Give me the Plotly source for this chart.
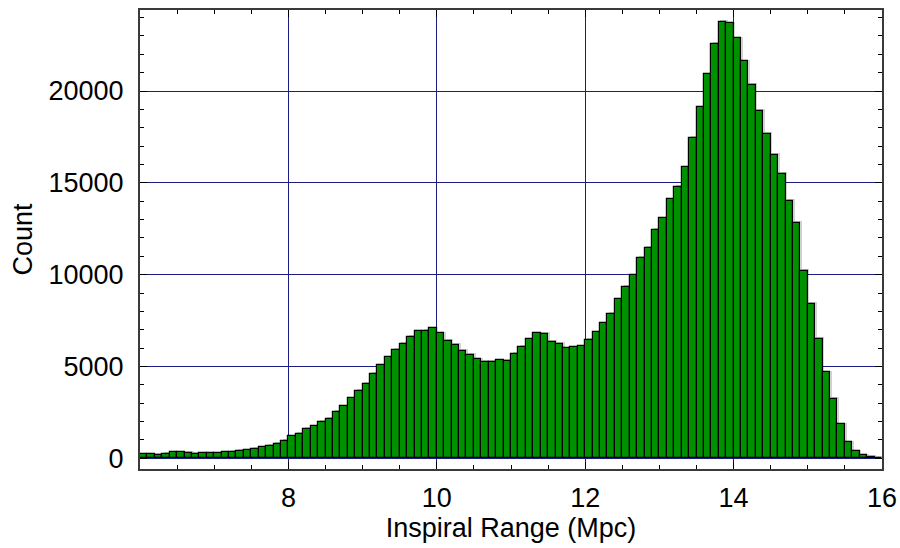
import plotly.graph_objects as go

# Histogram of inspiral range: bins of 0.1 Mpc from 6.0 to 16.0
bin_start = 6.0
bin_width = 0.1
counts = [
    216, 216, 200, 235, 325, 325, 290, 250, 270, 270,        # 6.0 - 6.9
    270, 325, 345, 400, 435, 505, 600, 670, 780, 940,        # 7.0 - 7.9
    1200, 1341, 1595, 1741, 1977, 2158, 2521, 2830, 3265, 3665,   # 8.0 - 8.9
    4062, 4607, 5063, 5498, 5896, 6224, 6605, 6915, 6932, 7078,   # 9.0 - 9.9
    6806, 6404, 6170, 5843, 5625, 5390, 5244, 5244, 5336, 5318,   # 10.0 - 10.9
    5680, 6060, 6480, 6806, 6768, 6349, 6224, 5989, 6044, 6099,   # 11.0 - 11.9
    6460, 6859, 7349, 7857, 8656, 9326, 9962, 10908, 11452, 12432,  # 12.0 - 12.9
    13066, 14100, 14772, 15843, 17440, 19112, 20907, 22577, 23757, 23685,  # 13.0 - 13.9
    22870, 21617, 20328, 18912, 17677, 16533, 15498, 14010, 12812, 10216,  # 14.0 - 14.9
    8402, 6496, 4683, 3229, 1851, 871, 381, 163, 71, 30,   # 15.0 - 15.9
]
x_tick_vals = [8, 10, 12, 14, 16]
x_tick_text = ["8", "10", "12", "14", "16"]
y_tick_vals = [0, 5000, 10000, 15000, 20000]
y_tick_text = ["0", "5000", "10000", "15000", "20000"]
x_title = "Inspiral Range (Mpc)"
y_title = "Count"

centers = [bin_start + (i + 0.5) * bin_width for i in range(len(counts))]

FONT = "Liberation Sans, Arial, sans-serif"

fig = go.Figure()
# soft shadow behind the bars
fig.add_trace(go.Bar(
    x=[c + 0.022 for c in centers], y=[v + 90 for v in counts],
    width=bin_width, marker=dict(color="rgba(0,0,0,0.18)", line=dict(width=0)),
    hoverinfo="skip", showlegend=False,
))
fig.add_trace(go.Bar(
    x=centers, y=counts, width=bin_width,
    marker=dict(color="#009100", line=dict(color="#000000", width=1.2)),
    showlegend=False,
))

fig.update_layout(
    width=900, height=548,
    margin=dict(l=140, r=18, t=10, b=79, autoexpand=False),
    paper_bgcolor="white", plot_bgcolor="white",
    bargap=0, barmode="overlay",
    font=dict(family=FONT, size=27, color="black"),
)
fig.update_xaxes(
    range=[6, 16], tickvals=x_tick_vals, ticktext=x_tick_text,
    ticks="inside", ticklen=7, tickwidth=1,
    tickcolor="black", showline=True, linecolor="#3a3a3a", linewidth=2, mirror="ticks",
    showgrid=True, gridcolor="#1c1c85", gridwidth=1, zeroline=False,
    minor=dict(dtick=0.5, tick0=6, ticks="inside", ticklen=4, tickcolor="black", showgrid=False),
    ticklabelstandoff=4,
    title=dict(text=x_title, standoff=4, font=dict(size=27)),
    tickfont=dict(size=27),
)
fig.update_yaxes(
    range=[-583, 24411], tickvals=y_tick_vals, ticktext=y_tick_text,
    ticks="inside", ticklen=7, tickwidth=1,
    tickcolor="black", showline=True, linecolor="#3a3a3a", linewidth=2, mirror="ticks",
    showgrid=True, gridcolor="#1c1c85", gridwidth=1, zeroline=False,
    minor=dict(dtick=1000, tick0=0, ticks="inside", ticklen=4, tickcolor="black", showgrid=False),
    ticklabelstandoff=9,
    title=dict(text=y_title, standoff=8, font=dict(size=27)),
    tickfont=dict(size=27),
)

fig.write_html("out.html")
